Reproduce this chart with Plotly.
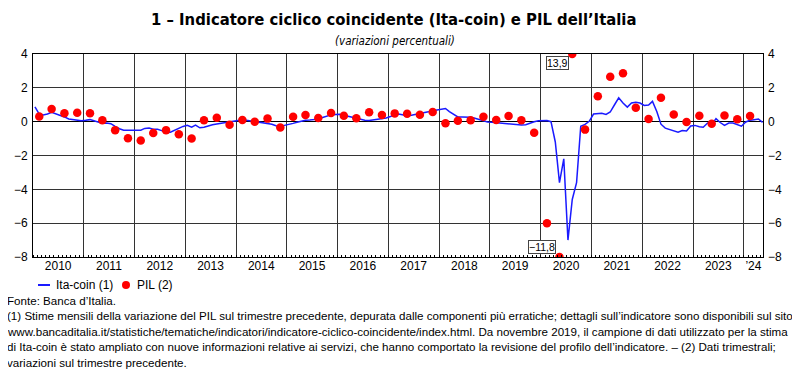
import numpy as np
import pandas as pd
import plotly.graph_objects as go

# ---------------- data ----------------
ita_coin_start = "2010-01-01"   # monthly series
ita_coin = [
    0.88, 0.45, 0.40, 0.45, 0.55, 0.47, 0.38, 0.28, 0.16, 0.12, 0.12, 0.05,      # 2010
    0.08, 0.12, 0.05, -0.05, -0.10, -0.08, -0.12, -0.28, -0.42, -0.50, -0.50, -0.50,  # 2011
    -0.50, -0.50, -0.40, -0.38, -0.45, -0.45, -0.53, -0.65, -0.62, -0.50, -0.37, -0.28,  # 2012
    -0.22, -0.32, -0.20, -0.36, -0.33, -0.25, -0.18, -0.14, -0.10, -0.06, 0.00, 0.05,  # 2013
    0.10, 0.12, 0.09, 0.05, 0.02, 0.00, -0.03, -0.07, -0.15, -0.24, -0.30, -0.22,   # 2014
    -0.14, -0.10, -0.04, 0.04, 0.08, 0.10, 0.12, 0.15, 0.25, 0.34, 0.40, 0.42,     # 2015
    0.44, 0.38, 0.32, 0.25, 0.17, 0.10, 0.08, 0.07, 0.10, 0.14, 0.18, 0.22,        # 2016
    0.30, 0.42, 0.45, 0.40, 0.35, 0.38, 0.42, 0.47, 0.52, 0.58, 0.64, 0.70,        # 2017
    0.72, 0.78, 0.60, 0.42, 0.28, 0.27, 0.27, 0.26, 0.20, 0.12, 0.05, -0.02,       # 2018
    -0.04, -0.06, -0.08, -0.12, -0.16, -0.18, -0.20, -0.20, -0.18, -0.08, 0.00, 0.06,  # 2019
    0.08, 0.07, 0.00, -1.20, -3.60, -2.20, -7.00, -4.60, -3.60, -0.27, -0.16, 0.02,  # 2020
    0.45, 0.50, 0.50, 0.43, 0.57, 1.00, 1.41, 1.10, 0.86, 1.10, 1.15, 1.10,        # 2021
    0.96, 0.98, 1.20, 0.60, -0.15, -0.38, -0.45, -0.55, -0.62, -0.52, -0.55, -0.25,  # 2022
    -0.22, -0.30, -0.33, -0.08, -0.18, 0.18, -0.05, -0.22, -0.08, -0.08, -0.20, -0.27,  # 2023
    -0.02, 0.08, 0.12, 0.16, -0.04,                                                # 2024
]

pil_start = "2010-02-01"   # quarterly series (mid-quarter)
pil = [
    0.3, 0.75, 0.5, 0.53,      # 2010
    0.5, 0.08, -0.5, -0.98,    # 2011
    -1.12, -0.67, -0.5, -0.75, # 2012
    -1.0, 0.08, 0.23, -0.18,   # 2013
    0.1, 0.0, 0.18, -0.34,     # 2014
    0.29, 0.39, 0.22, 0.51,    # 2015
    0.35, 0.2, 0.55, 0.39,     # 2016
    0.49, 0.47, 0.41, 0.57,    # 2017
    -0.1, 0.06, 0.08, 0.29,    # 2018
    0.1, 0.33, 0.08, -0.65,    # 2019
    -6.0, -11.8, 13.9, -0.47,  # 2020
    1.5, 2.65, 2.86, 0.82,     # 2021
    0.16, 1.41, 0.43, -0.02,   # 2022
    0.35, -0.12, 0.37, 0.14,   # 2023
    0.33,                      # 2024
]

year_labels = ["2010", "2011", "2012", "2013", "2014", "2015", "2016",
               "2017", "2018", "2019", "2020", "2021", "2022", "2023", "’24"]
y_ticks = [-8, -6, -4, -2, 0, 2, 4]
series_names = ["Ita-coin (1)", "PIL (2)"]
series_colors = ["#1a1aff", "#ff0000"]

# ---------------- derived ----------------
x_start, x_end = "2010-01-01", "2024-05-18"
y_min, y_max = -8, 4

ita_dates = pd.date_range(ita_coin_start, periods=len(ita_coin), freq="MS") + pd.Timedelta(days=14)
pil_dates = pd.date_range(pil_start, periods=len(pil), freq="3MS") + pd.Timedelta(days=14)
pil_arr = np.array(pil)
pil_shown = np.clip(pil_arr, y_min, y_max)

year_starts = pd.date_range("2011-01-01", "2024-01-01", freq="YS")
label_pos = list(pd.date_range("2010-07-01", periods=len(year_labels) - 1, freq="12MS"))
last_start = pd.Timestamp("2024-01-01")
label_pos.append(last_start + (pd.Timestamp(x_end) - last_start) / 2)

y_ticktext = [str(v).replace("-", "−") for v in y_ticks]

def it_num(v):
    return f"{v:.1f}".replace(".", ",").replace("-", "−")

FONT = "Liberation Sans, Arial, sans-serif"
COND = "DejaVu Sans Condensed, DejaVu Sans, sans-serif"

# the page body adds an 8px offset; lay the figure out in window pixels
OFF = 8
W, H = 800, 371
PL, PT, PW, PH = 33, 54, 730, 203          # plot area in window pixels
ML, MT = PL - OFF, PT - OFF
MR, MB = W - ML - PW, H - MT - PH

def px(xp):   # window pixel x -> paper x
    return (xp - PL) / PW

def py(yp):   # window pixel y -> paper y
    return (PT + PH - yp) / PH

fig = go.Figure()
fig.add_trace(go.Scatter(
    x=ita_dates, y=ita_coin, mode="lines", name=series_names[0],
    line=dict(color=series_colors[0], width=1.5),
    xaxis="x", yaxis="y", showlegend=False,
))
fig.add_trace(go.Scatter(
    x=pil_dates, y=pil_shown, mode="markers", name=series_names[1],
    marker=dict(color=series_colors[1], size=8.5, line=dict(width=0)),
    cliponaxis=True,
    xaxis="x2", yaxis="y2", showlegend=False,
))

grid_col = "#333333"
fig.update_layout(
    width=W, height=H,
    margin=dict(l=ML, r=MR, t=MT, b=MB, autoexpand=False),
    paper_bgcolor="white", plot_bgcolor="white",
    font=dict(family=FONT, size=12, color="black"),
    showlegend=False,
    xaxis=dict(
        type="date", range=[x_start, x_end], automargin=False,
        tickvals=list(year_starts), showticklabels=False, ticks="",
        showgrid=True, gridcolor=grid_col, gridwidth=1,
        showline=True, linecolor="black", linewidth=1, mirror=True,
        minor=dict(ticks="inside", dtick="M1", tick0="2010-01-01", ticklen=2,
                   tickcolor="black", showgrid=False),
        zeroline=False,
    ),
    xaxis2=dict(
        type="date", range=[x_start, x_end], overlaying="x", anchor="y",
        side="bottom", matches="x", automargin=False,
        tickvals=label_pos, ticktext=year_labels, ticks="",
        ticklabelstandoff=0,
        showgrid=False, showline=False, zeroline=False,
        tickfont=dict(family=FONT, size=12, color="black"),
    ),
    yaxis=dict(
        range=[y_min, y_max], tickvals=y_ticks, ticktext=y_ticktext, automargin=False,
        showgrid=True, gridcolor=grid_col, gridwidth=1,
        zeroline=True, zerolinecolor="black", zerolinewidth=1,
        showline=True, linecolor="black", linewidth=1, mirror=True,
        ticks="", ticklabelstandoff=2,
        tickfont=dict(family=FONT, size=12, color="black"),
    ),
    yaxis2=dict(
        range=[y_min, y_max], overlaying="y", side="right", anchor="x2", automargin=False,
        tickvals=y_ticks, ticktext=y_ticktext, showgrid=False, zeroline=False,
        ticks="", ticklabelstandoff=4,
        tickfont=dict(family=FONT, size=12, color="black"),
    ),
)

# labels for off-scale quarterly values
for d, v in zip(pil_dates, pil_arr):
    if v > y_max or v < y_min:
        fig.add_annotation(
            x=d, y=min(max(v, y_min), y_max), xref="x2", yref="y2",
            text=it_num(v), showarrow=False,
            xanchor="right", yanchor="top" if v > y_max else "bottom",
            xshift=-3, yshift=-2 if v > y_max else 3,
            bgcolor="white", bordercolor="#444", borderwidth=1, borderpad=0,
            font=dict(family=FONT, size=10.5, color="black"),
        )

# legend (drawn below the plot)
leg_y = py(285)
fig.add_shape(type="line", xref="paper", yref="paper",
              x0=px(38), x1=px(50), y0=leg_y, y1=leg_y,
              line=dict(color=series_colors[0], width=2))
fig.add_annotation(x=px(54), y=leg_y, xref="paper", yref="paper", showarrow=False,
                   text=series_names[0], xanchor="left", yanchor="middle",
                   font=dict(family=FONT, size=12, color="black"))
fig.add_shape(type="circle", xref="paper", yref="paper",
              x0=px(122), x1=px(130), y0=py(289), y1=py(281),
              fillcolor=series_colors[1], line=dict(width=0))
fig.add_annotation(x=px(135), y=leg_y, xref="paper", yref="paper", showarrow=False,
                   text=series_names[1], xanchor="left", yanchor="middle",
                   font=dict(family=FONT, size=12, color="black"))

# title & subtitle
fig.add_annotation(x=px(393), y=py(19), xref="paper", yref="paper", showarrow=False,
                   text="<b>1 – Indicatore ciclico coincidente (Ita-coin) e PIL dell’Italia</b>",
                   font=dict(family=COND, size=16.5, color="black"),
                   xanchor="center", yanchor="middle")
fig.add_annotation(x=px(395), y=py(41), xref="paper", yref="paper", showarrow=False,
                   text="<i>(variazioni percentuali)</i>",
                   font=dict(family=COND, size=11.5, color="black"),
                   xanchor="center", yanchor="middle")

notes = [
    "Fonte: Banca d’Italia.",
    "(1) Stime mensili della variazione del PIL sul trimestre precedente, depurata dalle componenti più erratiche; dettagli sull’indicatore sono disponibili sul sito",
    "www.bancaditalia.it/statistiche/tematiche/indicatori/indicatore-ciclico-coincidente/index.html. Da novembre 2019, il campione di dati utilizzato per la stima",
    "di Ita-coin è stato ampliato con nuove informazioni relative ai servizi, che hanno comportato la revisione del profilo dell’indicatore. – (2) Dati trimestrali;",
    "variazioni sul trimestre precedente.",
]
for i, t in enumerate(notes):
    fig.add_annotation(x=px(5), y=py(300 + 15.5 * i), xref="paper", yref="paper",
                       showarrow=False, text=t, xanchor="left", yanchor="middle",
                       font=dict(family=FONT, size=11.6, color="black"))

fig.write_html("out.html")
